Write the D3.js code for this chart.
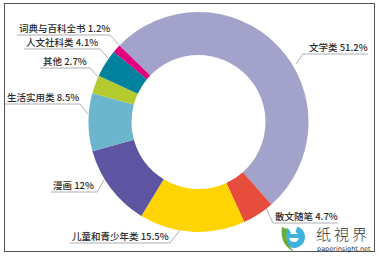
<!DOCTYPE html>
<html>
<head>
<meta charset="utf-8">
<script src="https://cdn.jsdelivr.net/npm/d3@7"></script>
<style>
body { margin: 0; background: #fff; }
svg { display: block; }
</style>
</head>
<body>
<div id="chart"></div>
<script>
//////////////////////////////////////////////////////////////
///////////////////////// Data ///////////////////////////////
//////////////////////////////////////////////////////////////

var categories = ["文学类", "散文随笔", "儿童和青少年类", "漫画", "生活实用类", "其他", "人文社科类", "词典与百科全书"],
	shares = [51.2, 4.7, 15.5, 12, 8.5, 2.7, 4.1, 1.2],
	shareLabels = ["51.2%", "4.7%", "15.5%", "12%", "8.5%", "2.7%", "4.1%", "1.2%"],
	sliceColors = ["#A2A2CA", "#E84C3D", "#FFD400", "#5E55A2", "#6CB6CD", "#B4CB2F", "#00829F", "#E3007E"];

//////////////////////////////////////////////////////////////
/////////////////////// Layout ///////////////////////////////
//////////////////////////////////////////////////////////////

var width = 379, height = 256,
	cx = 198.5, cy = 122,
	outerR = 110, innerR = 67,
	startDeg = -46;

//label placement: text start, baseline, underline span, leader end
var labelLayout = [
	{tx: 309, ty: 51, ux0: 303, ux1: 368, uy: 54, ex: 296, ey: 64, elbow: "left"},
	{tx: 275, ty: 220, ux0: 273, ux1: 338, uy: 223, ex: 266, ey: 208, elbow: "left"},
	{tx: 72, ty: 240, ux0: 70, ux1: 170, uy: 243, ex: 180, ey: 230, elbow: "right"},
	{tx: 53, ty: 189, ux0: 51, ux1: 97, uy: 192, ex: 104, ey: 180, elbow: "right"},
	{tx: 7, ty: 101, ux0: 5, ux1: 80, uy: 104, ex: 88, ey: 114, elbow: "right"},
	{tx: 43, ty: 65, ux0: 40, ux1: 90, uy: 68, ex: 98, ey: 77, elbow: "right"},
	{tx: 26, ty: 46, ux0: 24, ux1: 100, uy: 49, ex: 108, ey: 58, elbow: "right"},
	{tx: 19, ty: 32, ux0: 17, ux1: 110, uy: 35, ex: 119, ey: 45, elbow: "right"}
];

var svg = d3.select("#chart").append("svg")
	.attr("width", width)
	.attr("height", height);

//frame
svg.append("rect")
	.attr("x", 4.5).attr("y", 3.5)
	.attr("width", 370).attr("height", 248)
	.style("fill", "none")
	.style("stroke", "#555")
	.style("stroke-width", 1);

//////////////////////////////////////////////////////////////
//////////////////////// Donut ///////////////////////////////
//////////////////////////////////////////////////////////////

var pie = d3.pie()
	.sort(null)
	.value(function(d) { return d; })
	.startAngle(startDeg * Math.PI / 180)
	.endAngle((startDeg + 360) * Math.PI / 180);

var arc = d3.arc()
	.innerRadius(innerR)
	.outerRadius(outerR);

var donut = svg.append("g")
	.attr("transform", "translate(" + cx + "," + cy + ")");

donut.selectAll(".slice")
	.data(pie(shares))
	.enter().append("path")
	.attr("class", "slice")
	.attr("d", arc)
	.style("fill", function(d, i) { return sliceColors[i]; });

//////////////////////////////////////////////////////////////
//////////////////////// Labels //////////////////////////////
//////////////////////////////////////////////////////////////

var labels = svg.selectAll(".sliceLabel")
	.data(categories)
	.enter().append("g")
	.attr("class", "sliceLabel");

labels.append("polyline")
	.attr("points", function(d, i) {
		var l = labelLayout[i],
			ex = l.elbow === "left" ? l.ux0 : l.ux1,
			other = l.elbow === "left" ? l.ux1 : l.ux0;
		return [[other, l.uy], [ex, l.uy], [l.ex, l.ey]].join(" ");
	})
	.style("fill", "none")
	.style("stroke", "#9a9a9a")
	.style("stroke-width", 0.8);

labels.append("text")
	.attr("x", function(d, i) { return labelLayout[i].tx; })
	.attr("y", function(d, i) { return labelLayout[i].ty; })
	.style("font-family", "'Noto Sans CJK SC', 'Noto Sans', sans-serif")
	.style("font-size", "9.5px")
	.style("font-weight", "500")
	.attr("fill", "#2a2a2a")
	.text(function(d, i) { return d + " " + shareLabels[i]; });

//////////////////////////////////////////////////////////////
/////////////////////// Watermark ////////////////////////////
//////////////////////////////////////////////////////////////

var mark = svg.append("g").attr("class", "watermark");

mark.append("path")
	.attr("transform", "translate(294,237)")
	.attr("d", d3.arc().innerRadius(5).outerRadius(11).startAngle(0.3).endAngle(2 * Math.PI - 0.6)())
	.style("fill", "#3FB2DF");
mark.append("rect")
	.attr("x", 284).attr("y", 234).attr("width", 20).attr("height", 4)
	.style("fill", "#3FB2DF");
mark.append("path")
	.attr("d", "M282,227 Q279,245 296,253 Q284,244 287,229 Z")
	.style("fill", "#6AAE3A");

mark.append("text")
	.attr("x", 316).attr("y", 240)
	.style("font-family", "'Noto Sans CJK SC', serif")
	.style("font-size", "15px")
	.style("font-weight", "300")
	.style("letter-spacing", "3px")
	.attr("fill", "#333")
	.text("纸視界");

mark.append("text")
	.attr("x", 317).attr("y", 251)
	.style("font-family", "'DejaVu Sans', sans-serif")
	.style("font-size", "6.5px")
	.attr("fill", "#333")
	.text("paperinsight.net");
</script>
</body>
</html>
